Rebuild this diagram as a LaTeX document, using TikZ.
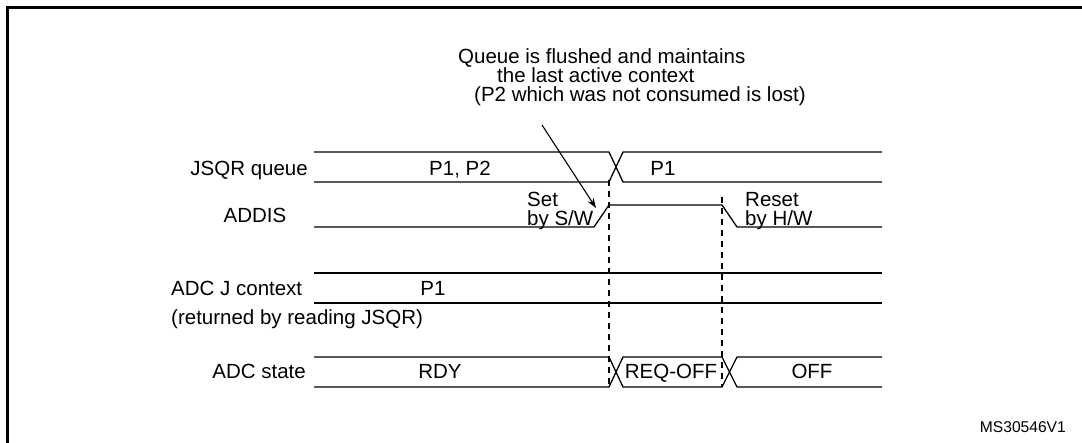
\documentclass[tikz,border=0pt]{standalone}
\usepackage{fontspec}
\setmainfont{Liberation Sans}
\usetikzlibrary{arrows.meta}
\begin{document}
\begin{tikzpicture}[x=1pt,y=-1pt,
  sig/.style={line width=1.3pt},
  guide/.style={line width=1.1pt, dash pattern=on 6pt off 5pt},
  lbl/.style={font=\fontsize{20.5}{22}\selectfont, inner sep=0pt, text height=14pt, text depth=3.5pt},
  note/.style={font=\fontsize{20.5}{18.6}\selectfont, inner sep=0pt, align=left},
  small/.style={font=\fontsize{15.6}{18}\selectfont, inner sep=0pt},
  callout/.style={line width=1.1pt, -{Stealth[length=10pt,width=7pt]}}]
\useasboundingbox (0,0) rectangle (1082,443);
% frame
\draw[line width=2.2pt] (1095,7.5) -- (7.5,7.5) -- (7.5,455);
% signal labels
\node[lbl, anchor=base east] (lq) at (308,176) {JSQR queue};
\node[lbl, anchor=base] (la) at (255,223) {ADDIS};
\node[lbl, anchor=base west] (lj) at (171,296) {ADC J context};
\node[lbl, anchor=base west] (lj2) at (171,325) {(returned by reading JSQR)};
\node[lbl, anchor=base east] (ls) at (306,379) {ADC state};
% JSQR queue
\draw[sig] (314,152) -- (609,152) -- (623,182) -- (882,182);
\draw[sig] (314,182) -- (609,182) -- (623,152) -- (882,152);
\node[lbl, anchor=base] (q1) at (460,176) {P1, P2};
\node[lbl, anchor=base] (q2) at (663,176) {P1};
% ADDIS
\draw[sig] (314,227) -- (594,227) -- (609,205) -- (722,205) -- (737,227) -- (882,227);
\node[lbl, anchor=base west] (set1) at (527,207) {Set};
\node[lbl, anchor=base west] (set2) at (527,225.5) {by S/W};
\node[lbl, anchor=base west] (rst1) at (745,207) {Reset};
\node[lbl, anchor=base west] (rst2) at (745,225.5) {by H/W};
% ADC J context
\draw[sig] (314,273) -- (882,273);
\draw[sig] (314,303) -- (882,303);
\node[lbl, anchor=base] (j1) at (433,296) {P1};
% ADC state
\draw[sig] (314,357) -- (609,357) -- (623,387) -- (722,387) -- (737,357) -- (882,357);
\draw[sig] (314,387) -- (609,387) -- (623,357) -- (722,357) -- (737,387) -- (882,387);
\node[lbl, anchor=base] (s1) at (440,379) {RDY};
\node[lbl, anchor=base] (s2) at (671,379) {REQ-OFF};
\node[lbl, anchor=base] (s3) at (812,379) {OFF};
% dashed guides
\draw[guide] (609,180) -- (609,387);
\draw[guide] (722,197) -- (722,387);
% annotation
\node[note, anchor=north west] (note) at (458,48)
  {Queue is flushed and maintains\\
   \hspace*{39pt}the last active context\\
   \hspace*{16pt}(P2 which was not consumed is lost)};
\coordinate (tip) at (596,208);
\coordinate (tail) at (542,125);
\draw[callout] (tail) -- (tip);
% reference code
\node[small, anchor=base east] (ms) at (1066,432.5) {MS30546V1};
\end{tikzpicture}
\end{document}
